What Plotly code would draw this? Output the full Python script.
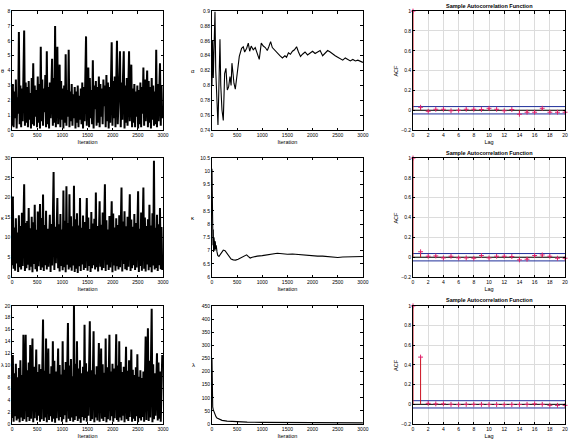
import plotly.graph_objects as go

# ---------------- data ----------------
ITER_STEP = 15  # thinning step of the stored trace samples

theta_trace = [
    0.3, 3.1, 0.2, 2.6, 0.8, 3.4, 0.1, 2.2, 1.1, 6.6, 0.4, 3.0, 0.2, 2.8, 0.6, 3.8, 6.7, 0.3, 3.2, 0.5,
    2.9, 0.2, 3.3, 0.7, 2.5, 0.1, 3.5, 0.4, 4.5, 0.3, 3.0, 0.9, 2.7, 0.2, 3.6, 0.5, 3.1, 0.1, 5.6, 0.6,
    3.4, 0.3, 2.8, 1.2, 3.7, 0.2, 5.3, 0.4, 2.9, 0.1, 3.2, 0.8, 2.6, 4.8, 0.3, 3.5, 0.5, 7.0, 0.2, 3.6,
    5.6, 0.4, 3.1, 4.4, 0.2, 3.3, 0.7, 2.8, 0.1, 3.0, 0.5, 5.1, 0.3, 2.7, 0.9, 5.4, 0.2, 2.6, 0.6, 3.1,
    0.3, 2.4, 0.8, 2.9, 0.1, 2.6, 0.5, 3.0, 0.2, 2.3, 0.7, 2.8, 0.4, 3.2, 0.1, 2.9, 0.6, 3.4, 6.3, 0.3,
    3.1, 4.2, 0.2, 3.5, 0.8, 2.7, 0.4, 4.7, 0.1, 3.0, 1.4, 3.3, 0.3, 2.9, 0.5, 3.6, 0.2, 3.1, 0.9, 2.8,
    0.4, 3.4, 1.6, 3.0, 0.2, 3.7, 0.6, 3.2, 0.1, 2.9, 0.5, 3.5, 5.9, 0.3, 3.3, 0.8, 3.6, 0.2, 3.1, 6.0,
    0.4, 1.5, 3.4, 5.3, 0.2, 3.2, 0.7, 3.6, 5.3, 0.1, 3.0, 0.5, 3.5, 0.3, 2.9, 5.3, 0.6, 3.3, 4.4, 0.2,
    2.8, 0.5, 3.1, 0.2, 2.6, 0.9, 3.0, 0.1, 2.7, 0.4, 3.2, 0.2, 2.9, 1.1, 4.2, 0.3, 3.4, 0.6, 2.8, 4.0,
    0.2, 3.3, 0.5, 2.9, 0.1, 3.5, 0.7, 3.0, 0.3, 2.6, 0.4, 5.4, 0.2, 3.1, 0.6, 2.8, 4.5, 0.3, 3.0, 0.8,
]

kappa_trace = [
    3.0, 20.3, 2.1, 12.5, 1.6, 14.8, 3.4, 11.2, 1.3, 15.6, 2.5, 12.9, 1.9, 16.2, 2.8, 11.5, 23.4, 1.5, 13.6, 2.2,
    14.1, 3.1, 17.4, 1.7, 12.3, 2.6, 15.2, 1.2, 13.8, 3.3, 18.2, 2.0, 11.9, 1.4, 16.5, 2.7, 12.6, 18.4, 1.8, 14.9,
    2.4, 20.8, 1.5, 13.1, 3.0, 16.7, 1.9, 12.2, 2.6, 14.5, 15.7, 1.3, 13.4, 2.9, 16.0, 26.5, 1.8, 12.7, 3.5, 15.1,
    19.9, 2.2, 13.3, 1.4, 15.9, 2.8, 12.0, 1.7, 21.8, 2.5, 14.2, 1.2, 22.9, 3.1, 13.6, 1.9, 20.9, 2.4, 15.3, 1.6,
    12.8, 2.9, 23.0, 1.3, 14.6, 2.1, 16.1, 1.0, 13.0, 2.7, 19.9, 1.5, 12.4, 3.2, 15.5, 1.8, 13.9, 2.3, 14.4, 19.9,
    1.6, 15.0, 2.8, 12.1, 1.3, 16.4, 2.2, 13.5, 3.0, 14.7, 1.9, 21.3, 2.5, 12.9, 1.4, 15.8, 19.1, 2.6, 13.2, 1.7,
    16.3, 2.3, 12.6, 23.4, 1.5, 14.3, 3.1, 12.0, 1.8, 15.4, 2.4, 13.7, 19.1, 1.2, 16.0, 2.9, 12.5, 1.6, 14.8, 2.7,
    13.1, 1.9, 15.6, 2.5, 12.3, 22.6, 1.4, 14.0, 3.3, 16.6, 2.0, 12.8, 1.7, 15.2, 2.6, 13.4, 20.9, 1.5, 14.5, 2.2,
    12.7, 3.0, 15.9, 1.8, 13.6, 2.4, 14.9, 21.6, 1.3, 12.2, 2.8, 16.3, 1.6, 13.8, 22.6, 2.1, 15.0, 1.4, 12.9, 3.2,
    14.6, 1.7, 18.2, 2.5, 13.0, 1.2, 16.1, 2.9, 29.3, 1.9, 12.4, 2.3, 15.7, 1.5, 13.3, 3.0, 17.4, 2.0, 12.6, 1.8,
]

lambda_trace = [
    1.0, 11.7, 0.4, 8.6, 1.3, 10.2, 0.6, 7.9, 0.9, 9.5, 0.3, 10.8, 1.1, 8.3, 0.5, 15.1, 0.8, 9.9, 15.1, 0.4,
    9.1, 1.2, 10.4, 0.5, 13.4, 0.9, 8.2, 14.5, 0.3, 9.7, 1.0, 10.9, 12.6, 0.6, 8.8, 1.4, 10.1, 0.4, 9.3, 0.8,
    10.6, 17.7, 0.5, 9.0, 1.1, 14.5, 0.3, 10.3, 12.8, 0.7, 8.5, 1.3, 9.8, 0.4, 14.0, 0.9, 10.7, 0.2, 8.9, 1.0,
    9.6, 12.8, 0.6, 10.0, 1.2, 8.4, 0.4, 14.0, 0.8, 9.2, 1.5, 10.5, 0.3, 8.7, 17.1, 0.9, 9.9, 0.5, 11.0, 1.1,
    8.1, 0.4, 20.0, 0.7, 10.2, 1.3, 14.0, 0.5, 9.4, 0.9, 10.8, 0.2, 8.6, 1.2, 9.7, 0.6, 16.8, 1.0, 10.3, 0.4,
    8.9, 1.4, 10.6, 17.4, 0.5, 9.1, 0.8, 10.0, 15.7, 0.3, 8.4, 1.1, 9.8, 0.6, 10.9, 13.7, 0.4, 9.3, 12.8, 0.9,
    10.1, 0.5, 8.7, 1.2, 14.5, 0.3, 9.6, 0.8, 10.4, 15.1, 0.6, 8.9, 1.3, 10.2, 0.4, 9.4, 1.0, 8.2, 15.2, 0.7,
    9.9, 0.4, 14.0, 1.1, 10.5, 0.6, 8.8, 1.4, 9.7, 0.3, 10.3, 13.1, 0.8, 9.0, 0.5, 10.8, 1.2, 8.5, 12.6, 0.4,
    9.2, 0.9, 8.3, 0.5, 9.6, 1.3, 11.8, 0.3, 8.0, 1.0, 9.1, 0.6, 7.8, 1.2, 8.9, 0.4, 10.2, 14.8, 0.7, 9.5,
    16.2, 0.5, 10.7, 1.1, 9.3, 19.5, 0.3, 10.1, 0.8, 8.6, 1.4, 9.8, 12.0, 0.6, 10.4, 0.9, 8.9, 0.4, 10.0, 11.7,
]

alpha_mean_iter = [0, 13, 26, 45, 60, 75, 93, 105, 119, 135, 159, 175, 199, 225, 240, 252, 278, 305, 331, 358,
                   380, 397, 420, 437, 464, 503, 543, 589, 622, 650, 690, 722, 750, 780, 820, 860, 900, 940, 980,
                   1020, 1060, 1100, 1130, 1166, 1200, 1250, 1300, 1350, 1400, 1450, 1483, 1520, 1560, 1600,
                   1640, 1682, 1720, 1760, 1800, 1850, 1900, 1950, 2000, 2050, 2100, 2150, 2200, 2250, 2300,
                   2350, 2400, 2450, 2500, 2550, 2600, 2650, 2700, 2750, 2800, 2850, 2900, 2950, 3000]
alpha_mean_val = [0.80, 0.86, 0.81, 0.87, 0.899, 0.82, 0.78, 0.76, 0.747, 0.79, 0.862, 0.80, 0.767, 0.753, 0.79,
                  0.816, 0.823, 0.794, 0.798, 0.812, 0.80, 0.83, 0.815, 0.803, 0.795, 0.818, 0.839, 0.85, 0.852,
                  0.845, 0.85, 0.857, 0.846, 0.853, 0.848, 0.851, 0.843, 0.835, 0.857, 0.853, 0.851, 0.847,
                  0.852, 0.859, 0.851, 0.847, 0.843, 0.840, 0.837, 0.840, 0.838, 0.844, 0.842, 0.846, 0.848,
                  0.852, 0.845, 0.839, 0.842, 0.845, 0.841, 0.843, 0.846, 0.843, 0.845, 0.847, 0.840, 0.844,
                  0.847, 0.845, 0.842, 0.840, 0.838, 0.836, 0.834, 0.837, 0.835, 0.833, 0.835, 0.833, 0.834,
                  0.832, 0.831]

kappa_mean_iter = [0, 4, 8, 12, 16, 20, 26, 32, 40, 50, 58, 66, 75, 85, 100, 115, 139, 160, 190, 225, 260, 300,
                   340, 380, 424, 470, 520, 580, 640, 689, 720, 760, 800, 850, 900, 1000, 1100, 1200, 1300,
                   1400, 1500, 1600, 1700, 1800, 1900, 2000, 2100, 2200, 2300, 2400, 2500, 2600, 2700, 2800,
                   2900, 3000]
kappa_mean_val = [10.1, 8.8, 9.6, 7.4, 8.3, 7.2, 7.8, 6.95, 7.5, 7.3, 7.0, 7.35, 7.05, 7.2, 6.95, 6.82, 6.78,
                  6.85, 6.95, 7.02, 7.0, 6.9, 6.78, 6.68, 6.65, 6.64, 6.67, 6.72, 6.8, 6.84, 6.78, 6.72, 6.75,
                  6.78, 6.79, 6.81, 6.84, 6.86, 6.9, 6.88, 6.86, 6.87, 6.85, 6.83, 6.81, 6.80, 6.79, 6.79,
                  6.78, 6.76, 6.74, 6.76, 6.77, 6.78, 6.78, 6.78]

lambda_mean_iter = [0, 2, 4, 6, 10, 15, 25, 40, 60, 80, 100, 150, 200, 300, 400, 500, 700, 1000, 1500, 2000,
                    2500, 3000]
lambda_mean_val = [250, 130, 160, 90, 75, 65, 55, 45, 35, 28, 23, 17, 14, 11, 9.5, 8.5, 7.3, 6.4, 5.6, 5.1,
                   4.8, 4.5]

acf_lags = list(range(21))
acf_theta = [1.0, 0.03, -0.01, 0.01, 0.01, -0.005, 0.0, 0.01, 0.01, 0.008, 0.02, 0.01, -0.005, 0.008,
             -0.04, -0.02, -0.02, 0.02, -0.02, -0.02, -0.02]
acf_kappa = [1.0, 0.055, 0.01, 0.013, -0.007, 0.01, -0.007, -0.007, -0.01, 0.017, -0.007, 0.01, 0.01, 0.007,
             -0.027, -0.02, 0.017, 0.023, 0.01, -0.01, -0.01]
acf_lambda = [1.0, 0.48, 0.01, 0.005, 0.005, 0.0, -0.003, 0.0, 0.0, 0.0, -0.002, -0.002, -0.003, -0.002,
              -0.002, 0.0, 0.005, 0.0, -0.01, -0.01, -0.01]
acf_bound = 0.037

trace_labels = ["θ", "κ", "λ"]
mean_labels = ["α", "κ", "λ"]
trace_ranges = [[0, 8], [0, 30], [0, 20]]
trace_dticks = [1, 5, 2]
mean_ranges = [[0.74, 0.9], [6, 10.5], [0, 450]]
mean_dticks = [0.02, 0.5, 50]
acf_title = "Sample Autocorrelation Function"

# ---------------- figure ----------------
FONT = "Liberation Sans, Arial, sans-serif"
W, H = 576, 444
col_dom = [(0.021, 0.283), (0.368, 0.630), (0.717, 0.981)]
row_dom = [(0.707, 0.975), (0.376, 0.644), (0.045, 0.311)]
ylabel_x = [0.0, 193 / W, 396 / W]

fig = go.Figure()
layout = {}

def axis_common():
    return dict(showline=True, linecolor="black", linewidth=0.8, mirror="allticks",
                ticks="inside", ticklen=2.5, tickwidth=0.6, tickcolor="black",
                tickfont=dict(size=5, family=FONT, color="black"),
                showgrid=False, zeroline=False, automargin=False)

def title_font(size):
    return dict(size=size, family=FONT, color="black")

def add_ylabel(text, c, r, size, rotate):
    fig.add_annotation(text=text, xref="paper", yref="paper", x=ylabel_x[c],
                       y=(row_dom[r][0] + row_dom[r][1]) / 2, xanchor="left" if c == 0 else "center",
                       yanchor="middle", showarrow=False, textangle=-90 if rotate else 0,
                       font=title_font(size), borderpad=0)

traces = [theta_trace, kappa_trace, lambda_trace]
means = [(alpha_mean_iter, alpha_mean_val), (kappa_mean_iter, kappa_mean_val),
         (lambda_mean_iter, lambda_mean_val)]
acfs = [acf_theta, acf_kappa, acf_lambda]

for r in range(3):
    for c in range(3):
        k = r * 3 + c + 1
        xa = "x" if k == 1 else f"x{k}"
        ya = "y" if k == 1 else f"y{k}"
        xk = "xaxis" if k == 1 else f"xaxis{k}"
        yk = "yaxis" if k == 1 else f"yaxis{k}"
        xax = axis_common()
        yax = axis_common()
        xax.update(domain=list(col_dom[c]), anchor=ya)
        yax.update(domain=list(row_dom[r]), anchor=xa)
        if c == 0:
            vals = traces[r]
            xs = [i * ITER_STEP for i in range(len(vals))]
            fig.add_trace(go.Scatter(x=xs, y=vals, mode="lines", xaxis=xa, yaxis=ya,
                                     line=dict(color="black", width=2.0), showlegend=False))
            xax.update(range=[0, 3000], dtick=500, tick0=0,
                       title=dict(text="Iteration", font=title_font(5.5), standoff=3))
            yax.update(range=trace_ranges[r], dtick=trace_dticks[r], tick0=0)
            add_ylabel(trace_labels[r], c, r, 5.5, False)
        elif c == 1:
            mx, my = means[r]
            fig.add_trace(go.Scatter(x=mx, y=my, mode="lines", xaxis=xa, yaxis=ya,
                                     line=dict(color="black", width=1.1), showlegend=False))
            xax.update(range=[0, 3000], dtick=500, tick0=0,
                       title=dict(text="Iteration", font=title_font(5.5), standoff=3))
            yax.update(range=mean_ranges[r], dtick=mean_dticks[r], tick0=mean_ranges[r][0])
            add_ylabel(mean_labels[r], c, r, 6, False)
        else:
            vals = acfs[r]
            sx, sy = [], []
            for lag, v in zip(acf_lags, vals):
                sx += [lag, lag, None]
                sy += [0, v, None]
            fig.add_trace(go.Scatter(x=[0, 20], y=[0, 0], mode="lines", xaxis=xa, yaxis=ya,
                                     line=dict(color="black", width=1), showlegend=False))
            for b in (acf_bound, -acf_bound):
                fig.add_trace(go.Scatter(x=[0, 20], y=[b, b], mode="lines", xaxis=xa, yaxis=ya,
                                         line=dict(color="#1f2f9a", width=1), showlegend=False))
            fig.add_trace(go.Scatter(x=sx, y=sy, mode="lines", xaxis=xa, yaxis=ya,
                                     line=dict(color="#cc1020", width=1), showlegend=False))
            fig.add_trace(go.Scatter(x=acf_lags, y=vals, mode="markers", xaxis=xa, yaxis=ya,
                                     marker=dict(symbol="cross-thin", size=3.5,
                                                 line=dict(color="#e0206a", width=1)),
                                     showlegend=False, cliponaxis=False))
            xax.update(range=[0, 20], dtick=2, tick0=0, showgrid=True, gridcolor="#dcdcdc", gridwidth=0.6,
                       title=dict(text="Lag", font=title_font(5.5), standoff=3))
            yax.update(range=[-0.2, 1], dtick=0.2, tick0=-0.2, showgrid=True, gridcolor="#dcdcdc",
                       gridwidth=0.6)
            add_ylabel("ACF", c, r, 5.5, True)
            fig.add_annotation(text="<b>" + acf_title + "</b>", xref="paper", yref="paper",
                               x=(col_dom[c][0] + col_dom[c][1]) / 2, y=row_dom[r][1],
                               xanchor="center", yanchor="bottom", yshift=0.5, showarrow=False,
                               font=title_font(5.5))
        layout[xk] = xax
        layout[yk] = yax

fig.update_layout(**layout)
fig.update_layout(width=W, height=H, margin=dict(l=0, r=0, t=0, b=0),
                  paper_bgcolor="white", plot_bgcolor="white", showlegend=False,
                  font=dict(family=FONT, color="black"))

fig.write_html("out.html", config={"displayModeBar": False},
               post_script="document.body.style.margin='0';document.body.style.padding='0';")
